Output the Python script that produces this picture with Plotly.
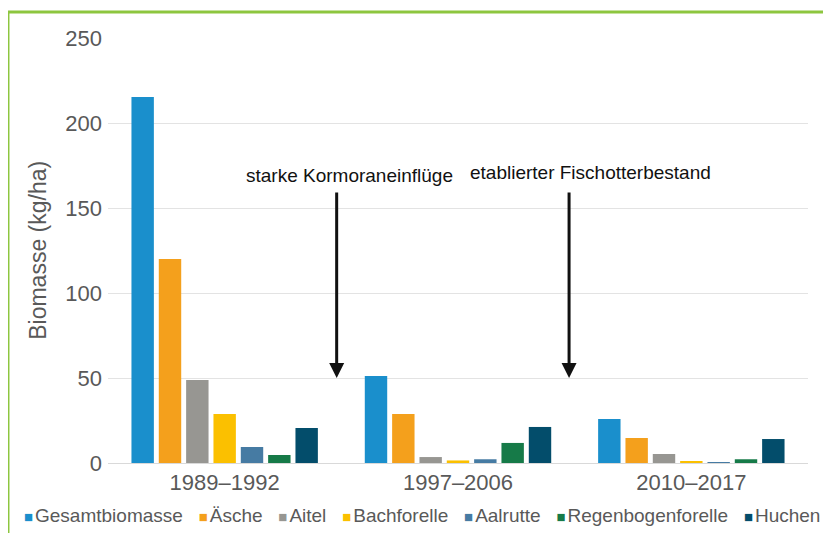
import plotly.graph_objects as go

periods = ["1989–1992", "1997–2006", "2010–2017"]
species = ["Gesamtbiomasse", "Äsche", "Aitel", "Bachforelle", "Aalrutte", "Regenbogenforelle", "Huchen"]
colors = ["#1a8fcc", "#f4a01c", "#979692", "#fbc000", "#467ba3", "#167a48", "#034d6b"]
gesamt = [215.3, 51.2, 25.9]
aesche = [120.0, 28.8, 14.7]
aitel = [48.8, 3.5, 5.3]
bachforelle = [28.8, 1.5, 1.0]
aalrutte = [9.4, 2.2, 0.3]
regenbogen = [4.7, 11.8, 2.2]
huchen = [20.6, 21.2, 14.1]
values = [gesamt, aesche, aitel, bachforelle, aalrutte, regenbogen, huchen]

events = ["starke Kormoraneinflüge", "etablierter Fischotterbestand"]
event_x = [0.48, 1.476]
event_text_x = [0.535, 1.566]
event_text_y = [169, 171]

FONT = "Liberation Sans, Arial, Helvetica"
GREY = "#595959"

fig = go.Figure()
for name, col, vals in zip(species, colors, values):
    fig.add_trace(go.Bar(x=[0, 1, 2], y=vals, name=name, marker_color=col,
                         marker_line_width=0, showlegend=False))

for ex, tx, ty, txt in zip(event_x, event_text_x, event_text_y, events):
    fig.add_annotation(x=ex, y=50, ax=ex, ay=160, xref="x", yref="y", axref="x", ayref="y",
                       showarrow=True, arrowhead=2, arrowsize=1.0, arrowwidth=3,
                       arrowcolor="#111", text="")
    fig.add_annotation(x=tx, y=ty, xref="x", yref="y", text=txt, showarrow=False,
                       font=dict(size=19, color="#111", family=FONT))

# custom legend (single line)
legend_parts = []
for name, col in zip(species, colors):
    legend_parts.append(
        "<span style='color:%s;font-size:15px'>■</span>"
        "<span style='font-size:7px'>&nbsp;</span>%s" % (col, name))
legend_text = "&nbsp;&nbsp;&nbsp;".join(legend_parts)
fig.add_annotation(x=0.449, y=-0.1247, xref="paper", yref="paper", text=legend_text,
                   showarrow=False, xanchor="center", yanchor="middle",
                   font=dict(size=19, color=GREY, family=FONT))

# y title
fig.add_annotation(x=-0.101, y=0.5, xref="paper", yref="paper", text="Biomasse (kg/ha)",
                   textangle=-90, showarrow=False, xanchor="center", yanchor="middle",
                   font=dict(size=23, color=GREY, family=FONT))

# green frame
fig.add_shape(type="line", xref="paper", yref="paper", x0=-0.1429, x1=-0.1429, y0=1.0612, y1=-0.2,
              line=dict(color="#8dc63f", width=3))
fig.add_shape(type="line", xref="paper", yref="paper", x0=-0.1429, x1=1.1, y0=1.0612, y1=1.0612,
              line=dict(color="#8dc63f", width=3))

fig.update_layout(
    width=823, height=525,
    margin=dict(l=100, r=23, t=30, b=70),
    paper_bgcolor="white", plot_bgcolor="white",
    barmode="group", bargap=0.18, bargroupgap=0.18,
    font=dict(family=FONT, color=GREY),
    showlegend=False,
    xaxis=dict(tickmode="array", tickvals=[0, 1, 2], ticktext=periods, range=[-0.5, 2.5],
               tickfont=dict(size=22, color=GREY), showgrid=False, showline=True,
               linecolor="#d9d9d9", linewidth=1, ticks=""),
    yaxis=dict(range=[0, 250], tickvals=[0, 50, 100, 150, 200, 250],
               tickfont=dict(size=22, color=GREY), showgrid=True, gridcolor="#e3e3e3",
               gridwidth=1, zeroline=False, ticks="", ticklen=0, ticklabelstandoff=5),
)

fig.write_html("out.html")
